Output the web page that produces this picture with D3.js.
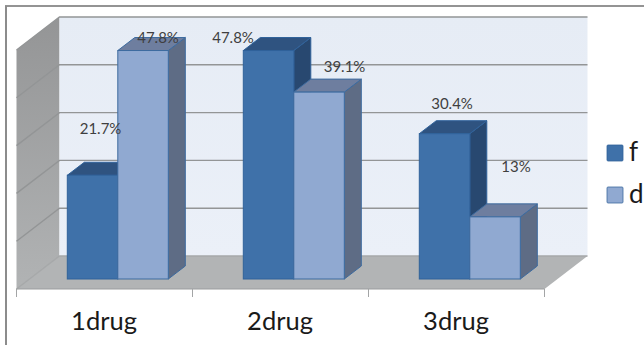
<!DOCTYPE html>
<html>
<head>
<meta charset="utf-8">
<script src="https://cdn.jsdelivr.net/npm/d3@7"></script>
<style>
  html, body { margin: 0; padding: 0; background: #fff; }
  svg { display: block; }
  text { font-family: Lato, "Open Sans", sans-serif; }
</style>
</head>
<body>
<svg id="chart" width="644" height="345"></svg>
<script>
const categories = ["1drug", "2drug", "3drug"];
const seriesNames = ["f", "d"];
const fValues = [21.7, 47.8, 30.4];
const dValues = [47.8, 39.1, 13];
const fLabels = ["21.7%", "47.8%", "30.4%"];
const dLabels = ["47.8%", "39.1%", "13%"];
const gridTicks = [0, 10, 20, 30, 40, 50];

// Hand-placed label centres, relative to the top-front centre of each bar.
const fLabelNudge = [[8, -47], [-35.5, -13], [7.5, -30]];
const dLabelNudge = [[15, -13], [25.5, -25], [21, -50]];

const palette = {
  f: { front: "#3f71a9", side: "#284870", top: "#2f5380", edge: "#30629a" },
  d: { front: "#90a9d1", side: "#5e6c85", top: "#6e7e9f", edge: "#3d6b9f" }
};

const svg = d3.select("#chart");
const defs = svg.append("defs");

const wallGrad = defs.append("linearGradient").attr("id", "sideWall")
  .attr("x1", 0).attr("x2", 0).attr("y1", 0).attr("y2", 1);
wallGrad.append("stop").attr("offset", 0).attr("stop-color", "#949596");
wallGrad.append("stop").attr("offset", 1).attr("stop-color", "#b1b3b4");

const backGrad = defs.append("linearGradient").attr("id", "backWall")
  .attr("x1", 0).attr("x2", 0).attr("y1", 0).attr("y2", 1);
backGrad.append("stop").attr("offset", 0).attr("stop-color", "#e6ecf5");
backGrad.append("stop").attr("offset", 1).attr("stop-color", "#ebf0f8");

// Page frame: dark rule along the top, grey rule down the left.
svg.append("line").attr("x1", 5).attr("x2", 644).attr("y1", 6).attr("y2", 6)
  .attr("stroke", "#2a2a2a").attr("stroke-width", 1.2);
svg.append("line").attr("x1", 6).attr("x2", 6).attr("y1", 6).attr("y2", 345)
  .attr("stroke", "#8c8c8c").attr("stroke-width", 2);

// Front plane of the chart box and the shear used for depth.
const plot = { left: 16.5, right: 544.5, base: 289, unit: 4.78 };
const roomDepth = { x: 43, y: -33 };
const barDepth = { x: 17, y: -13 };
const barPlane = { x: 13.3, y: -10 };

const x = d3.scaleBand().domain(categories).range([plot.left, plot.right]);
const y = d3.scaleLinear().domain([0, 50]).range([plot.base, plot.base - 50 * plot.unit]);
const groupWidth = 101;
const xInner = d3.scaleBand().domain(seriesNames)
  .range([(x.bandwidth() - groupWidth) / 2, (x.bandwidth() + groupWidth) / 2]);

const poly = pts => pts.map(p => p.join(",")).join(" ");
const [xL, xR] = x.range();
const y0 = y(0), y50 = y(50);

// Room: side wall, back wall, floor.
svg.append("polygon").attr("fill", "url(#sideWall)")
  .attr("points", poly([[xL, y0], [xL, y50], [xL + roomDepth.x, y50 + roomDepth.y], [xL + roomDepth.x, y0 + roomDepth.y]]));
svg.append("rect").attr("fill", "url(#backWall)")
  .attr("x", xL + roomDepth.x).attr("y", y50 + roomDepth.y)
  .attr("width", xR - xL).attr("height", y0 - y50);
svg.append("polygon").attr("fill", "#b2b4b5")
  .attr("points", poly([[xL, y0], [xR, y0], [xR + roomDepth.x, y0 + roomDepth.y], [xL + roomDepth.x, y0 + roomDepth.y]]));

// Gridlines run along the side wall, then across the back wall.
svg.append("g").selectAll("polyline").data(gridTicks).join("polyline")
  .attr("fill", "none")
  .attr("stroke", d => d === 0 ? "#a6a8a9" : "#939596")
  .attr("stroke-width", 1.4)
  .attr("points", d => poly([[xL, y(d)], [xL + roomDepth.x, y(d) + roomDepth.y], [xR + roomDepth.x, y(d) + roomDepth.y]]));

// Category axis along the front edge of the floor.
const axis = svg.append("g").attr("transform", `translate(0,${y0})`)
  .call(d3.axisBottom(x).tickSize(0).tickPadding(23));
axis.select(".domain").remove();
axis.selectAll("text").attr("font-size", 25.5).attr("fill", "#1a1a1a")
  .attr("font-family", "Lato, sans-serif").attr("dx", -0.5);
svg.append("line").attr("x1", xL).attr("x2", xR).attr("y1", y0).attr("y2", y0)
  .attr("stroke", "#9b9d9e").attr("stroke-width", 1);
const edgeTicks = categories.map(c => x(c)).concat(xR);
svg.append("g").selectAll("line").data(edgeTicks).join("line")
  .attr("x1", d => d).attr("x2", d => d).attr("y1", y0).attr("y2", y0 + 8)
  .attr("stroke", "#a3a5a6").attr("stroke-width", 1);

// Flatten series into one list of bars.
const bars = categories.flatMap((c, i) => [
  { cat: c, key: "f", value: fValues[i], label: fLabels[i], nudge: fLabelNudge[i] },
  { cat: c, key: "d", value: dValues[i], label: dLabels[i], nudge: dLabelNudge[i] }
]);

const barX = b => x(b.cat) + xInner(b.key) + barPlane.x;
const barTop = b => y(b.value) + barPlane.y;
const barBase = y0 + barPlane.y;
const w = xInner.bandwidth();

const barGroups = svg.append("g").selectAll("g").data(bars).join("g");

barGroups.append("polygon")
  .attr("fill", d => palette[d.key].side)
  .attr("stroke", d => palette[d.key].edge)
  .attr("points", d => poly([
    [barX(d) + w, barTop(d)], [barX(d) + w + barDepth.x, barTop(d) + barDepth.y],
    [barX(d) + w + barDepth.x, barBase + barDepth.y], [barX(d) + w, barBase]]));
barGroups.append("polygon")
  .attr("fill", d => palette[d.key].top)
  .attr("stroke", d => palette[d.key].edge)
  .attr("points", d => poly([
    [barX(d), barTop(d)], [barX(d) + barDepth.x, barTop(d) + barDepth.y],
    [barX(d) + w + barDepth.x, barTop(d) + barDepth.y], [barX(d) + w, barTop(d)]]));
barGroups.append("rect")
  .attr("fill", d => palette[d.key].front)
  .attr("stroke", d => palette[d.key].edge)
  .attr("x", barX).attr("y", barTop)
  .attr("width", w).attr("height", d => barBase - barTop(d));

// Value labels go on top of every bar.
svg.append("g").selectAll("text").data(bars).join("text")
  .attr("x", d => barX(d) + w / 2 + d.nudge[0])
  .attr("y", d => barTop(d) + d.nudge[1])
  .attr("dy", "0.35em")
  .attr("text-anchor", "middle")
  .attr("font-size", 15)
  .attr("fill", "#3f3f3f")
  .text(d => d.label);

// Legend.
const legend = svg.append("g").selectAll("g").data(seriesNames).join("g")
  .attr("transform", (d, i) => `translate(607,${145 + i * 42})`);
legend.append("rect").attr("width", 16).attr("height", 16).attr("rx", 1)
  .attr("fill", d => palette[d].front).attr("stroke", d => palette[d].edge).attr("stroke-width", 0.8);
legend.append("text").attr("x", 22).attr("y", 16)
  .attr("font-size", 26).attr("fill", "#1a1a1a").text(d => d);
</script>
</body>
</html>
